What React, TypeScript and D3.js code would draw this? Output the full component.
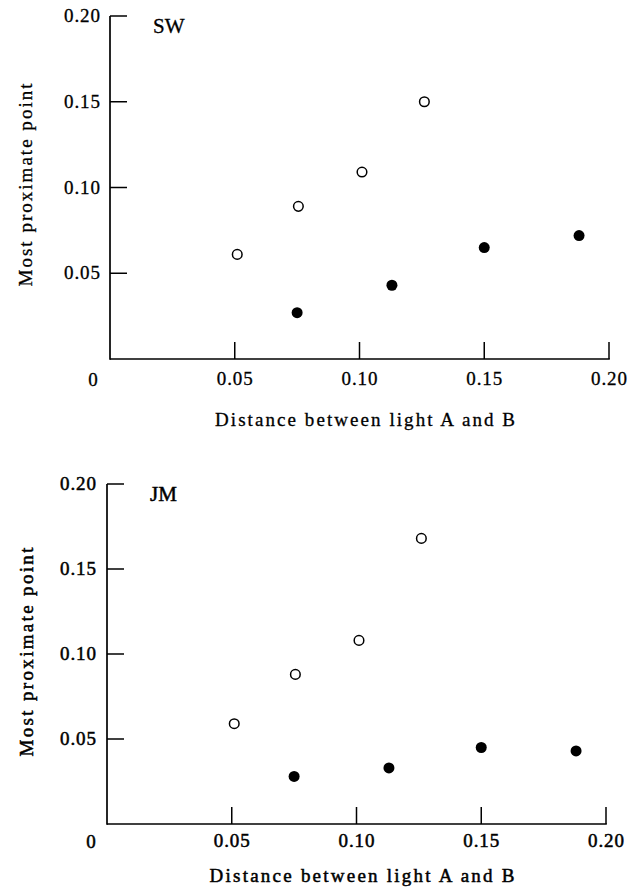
import React from "react";
import * as d3 from "d3";

// ---- data ----
const panelNames = ["SW", "JM"];
const openX = [0.051, 0.0755, 0.101, 0.126];
const filledX = [0.075, 0.113, 0.15, 0.188];
const swOpenY = [0.061, 0.089, 0.109, 0.15];
const swFilledY = [0.027, 0.043, 0.065, 0.072];
const jmOpenY = [0.059, 0.088, 0.108, 0.168];
const jmFilledY = [0.028, 0.033, 0.045, 0.043];
const tickValues = [0.05, 0.1, 0.15, 0.2];
const xTitle = "Distance between light A and B";
const yTitle = "Most proximate point";

const FONT = "'Liberation Serif', 'Times New Roman', Times, serif";
const fmt = d3.format(".2f");

type PanelProps = {
  name: string;
  openY: number[];
  filledY: number[];
  x0: number;
  x1: number;
  y0: number;
  y1: number;
  yLabelEnd: number;
  xLabelBase: number;
  titleBase: number;
  titleCenter: number;
  titleWidth: number;
  yTitleX: number;
  yTitleCenter: number;
  yTitleLen: number;
  originX: number;
  weight: number;
};

function Panel(p: PanelProps) {
  const x = d3.scaleLinear().domain([0, 0.2]).range([p.x0, p.x1]);
  const y = d3.scaleLinear().domain([0, 0.2]).range([p.y0, p.y1]);
  const tick = 17;
  const sw = 1.7;
  const fs = 19;
  return (
    <g fontFamily={FONT} fill="#000" stroke="#000" strokeWidth={p.weight}>
      {/* axes */}
      <line x1={x(0)} x2={x(0.2) + 0.8} y1={y(0)} y2={y(0)} strokeWidth={sw} />
      <line x1={x(0)} x2={x(0)} y1={y(0) + 0.8} y2={y(0.2)} strokeWidth={sw} />
      {tickValues.map((t) => (
        <line key={"xt" + t} x1={x(t)} x2={x(t)} y1={y(0)} y2={y(0) - tick} strokeWidth={1.5} />
      ))}
      {tickValues.map((t) => (
        <line key={"yt" + t} x1={x(0)} x2={x(0) + tick} y1={y(t)} y2={y(t)} strokeWidth={1.5} />
      ))}
      {/* tick labels */}
      {tickValues.map((t) => (
        <text key={"xl" + t} x={x(t)} y={p.xLabelBase} fontSize={fs} textAnchor="middle" textLength={36} lengthAdjust="spacing">
          {fmt(t)}
        </text>
      ))}
      {tickValues.map((t) => (
        <text key={"yl" + t} x={p.yLabelEnd} y={y(t) + 6} fontSize={fs} textAnchor="end" textLength={36} lengthAdjust="spacing">
          {fmt(t)}
        </text>
      ))}
      <text x={p.originX} y={p.xLabelBase + 1} fontSize={fs} textAnchor="middle">0</text>
      {/* titles */}
      <text x={p.titleCenter} y={p.titleBase} fontSize={fs} textAnchor="middle" textLength={p.titleWidth} lengthAdjust="spacing">
        {xTitle}
      </text>
      <text
        transform={`translate(${p.yTitleX},${p.yTitleCenter}) rotate(-90)`}
        fontSize={fs}
        textAnchor="middle"
        textLength={p.yTitleLen}
        lengthAdjust="spacing"
      >
        {yTitle}
      </text>
      <text x={x(0) + 43} y={y(0.2) + 17} fontSize={21}>
        {p.name}
      </text>
      {/* points */}
      {openX.map((v, i) => (
        <circle key={"o" + i} cx={x(v)} cy={y(p.openY[i])} r={4.8} fill="#fff" stroke="#000" strokeWidth={1.5} />
      ))}
      {filledX.map((v, i) => (
        <circle key={"f" + i} cx={x(v)} cy={y(p.filledY[i])} r={5.5} fill="#000" stroke="none" />
      ))}
    </g>
  );
}

export default function App() {
  return (
    <svg
      width={642}
      height={890}
      viewBox="0 0 642 890"
      style={{ position: "absolute", left: 0, top: 0, background: "#fff" }}
    >
      <rect width={642} height={890} fill="#fff" />
      <Panel
        name={panelNames[0]}
        openY={swOpenY}
        filledY={swFilledY}
        x0={110}
        x1={609}
        y0={359}
        y1={16}
        yLabelEnd={100}
        xLabelBase={385}
        titleBase={426}
        titleCenter={365}
        titleWidth={300}
        yTitleX={32}
        yTitleCenter={185}
        yTitleLen={203}
        originX={93}
        weight={0.3}
      />
      <Panel
        name={panelNames[1]}
        openY={jmOpenY}
        filledY={jmFilledY}
        x0={107}
        x1={606}
        y0={824}
        y1={484}
        yLabelEnd={96}
        xLabelBase={847}
        titleBase={882}
        titleCenter={362}
        titleWidth={305}
        yTitleX={33}
        yTitleCenter={652}
        yTitleLen={209}
        originX={91}
        weight={0.5}
      />
    </svg>
  );
}
